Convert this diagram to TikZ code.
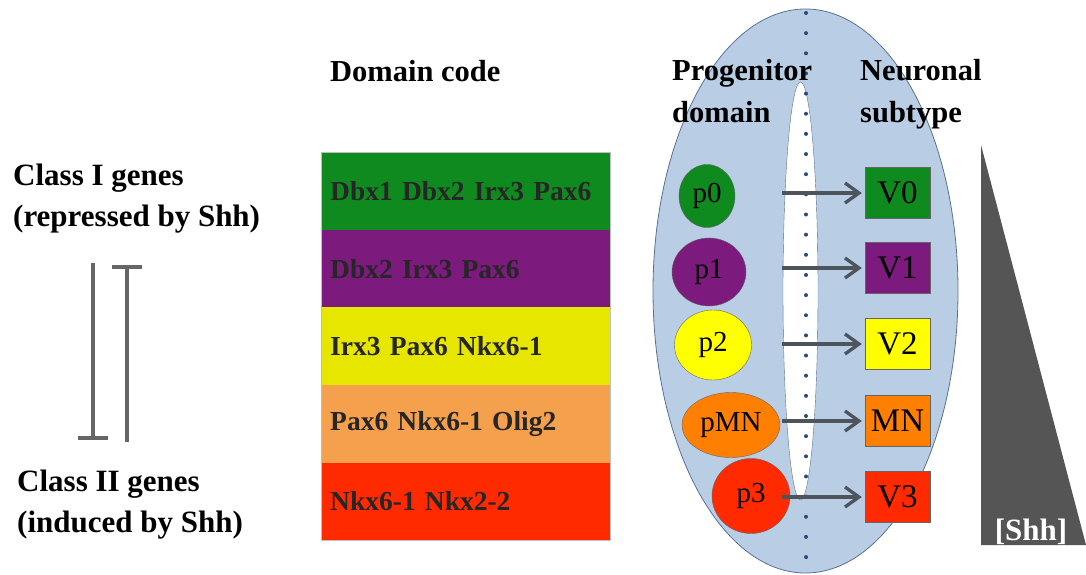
\documentclass[tikz,border=0pt]{standalone}
\usepackage{fontspec}
\setmainfont{Liberation Serif}
\usetikzlibrary{arrows.meta,shapes.geometric}

\definecolor{dgreen}{HTML}{0E8A1F}
\definecolor{dpurple}{HTML}{7C1A7E}
\definecolor{byellow}{HTML}{E6E600}
\definecolor{lorange}{HTML}{F5A04C}
\definecolor{bred}{HTML}{FF2A00}
\definecolor{cyellow}{HTML}{FFFF00}
\definecolor{corange}{HTML}{FF8000}
\definecolor{tubeblue}{HTML}{B9CDE5}
\definecolor{tubeline}{HTML}{5A7094}
\definecolor{dotblue}{HTML}{2B4A7A}
\definecolor{arrowgray}{HTML}{4E545C}
\definecolor{bargray}{HTML}{666666}
\definecolor{shhgray}{HTML}{555555}

\tikzset{
  head/.style={font=\fontsize{30.5}{42}\selectfont\bfseries, align=left, anchor=base west, inner sep=0},
  gene/.style={font=\fontsize{31}{40.5}\selectfont\bfseries, align=left, anchor=base west, inner sep=0},
  band/.style={anchor=north west, minimum height=77.6pt, text width=271pt, inner xsep=9pt, inner ysep=0,
    align=left, font=\fontsize{27.5}{30}\selectfont\bfseries, text=black!85},
  prog/.style={ellipse, draw=black!60, thin, inner sep=0, font=\fontsize{29}{32}\selectfont},
  subtype/.style={rectangle, draw=black!60, thin, minimum width=65pt, minimum height=51pt, inner sep=0,
    font=\fontsize{33}{36}\selectfont},
  flow/.style={draw=arrowgray, line width=3.3pt, -{Straight Barb[length=14pt,width=20pt,line width=3.3pt]}},
  block/.style={draw=bargray, line width=4pt, -{Bar[width=30pt,line width=4pt]}}
}

\begin{document}
\begin{tikzpicture}[x=1pt,y=-1pt]
  \useasboundingbox (0,0) rectangle (1086,575);

  % Draw the gene classes
  \node[gene] (classI) at (13,226) {Class I genes\\(repressed by Shh)};
  \node[gene] (classII) at (17,532) {Class II genes\\(induced by Shh)};

  % Draw the mutual repression
  \coordinate (lt) at (93,263);
  \coordinate (lb) at (93,440);
  \coordinate (rt) at (127,265);
  \coordinate (rb) at (127,442);
  \draw[block] (lt) -- (lb);
  \draw[block] (rb) -- (rt);

  % Draw the domain code
  \node[head] (code) at (330,82) {Domain code};
  \foreach \col/\txt [count=\i from 0] in {dgreen/Dbx1 Dbx2 Irx3 Pax6, dpurple/Dbx2 Irx3 Pax6,
      byellow/Irx3 Pax6 Nkx6-1, lorange/Pax6 Nkx6-1 Olig2, bred/Nkx6-1 Nkx2-2}
    \node[band, fill=\col] (d\i) at (321,152+77.6*\i) {\txt};
  \draw[black!25] (d0.north west) rectangle (d4.south east);

  % Draw the neural tube
  \filldraw[fill=tubeblue, draw=tubeline, thick] (805.5,291) ellipse [x radius=152.5, y radius=282];
  \filldraw[fill=white, draw=tubeline] (800.5,291) ellipse [x radius=17.5, y radius=209];
  \foreach \k in {0,...,27}
    \fill[dotblue] (806,13+20.15*\k) circle [radius=2];

  \node[head] (prog) at (672,122) {Progenitor\\domain};
  \node[head] (neur) at (860,122) {Neuronal\\subtype};

  % Draw the progenitor domains
  \node[prog, fill=dgreen, minimum width=56pt, minimum height=63pt] (p0) at (707,196) {p0};
  \node[prog, fill=dpurple, minimum width=74pt, minimum height=68pt] (p1) at (709,272) {p1};
  \node[prog, fill=cyellow, minimum width=77pt, minimum height=70pt] (p2) at (713,345) {p2};
  \node[prog, fill=corange, minimum width=98pt, minimum height=65pt] (pMN) at (731,425) {pMN};
  \node[prog, fill=bred, minimum width=78pt, minimum height=75pt] (p3) at (751,496) {p3};

  % Draw the neuronal subtypes
  \node[subtype, fill=dgreen] (V0) at (897.5,193) {V0};
  \node[subtype, fill=dpurple] (V1) at (897.5,268) {V1};
  \node[subtype, fill=cyellow] (V2) at (897.5,344) {V2};
  \node[subtype, fill=corange] (MN) at (897.5,421) {MN};
  \node[subtype, fill=bred] (V3) at (897.5,497) {V3};

  % Draw the arrows
  \coordinate (ax) at (782,0);
  \foreach \n in {V0,V1,V2,MN,V3}
    \draw[flow, shorten >=3pt] (\n.west -| ax) -- (\n.west);

  % Draw the Shh gradient
  \fill[shhgray] (981,145) -- (981,545) -- (1086,545) -- cycle;
  \node[font=\fontsize{31}{34}\selectfont\bfseries, text=white, anchor=base] (shh) at (1031,540) {[Shh]};
\end{tikzpicture}
\end{document}
